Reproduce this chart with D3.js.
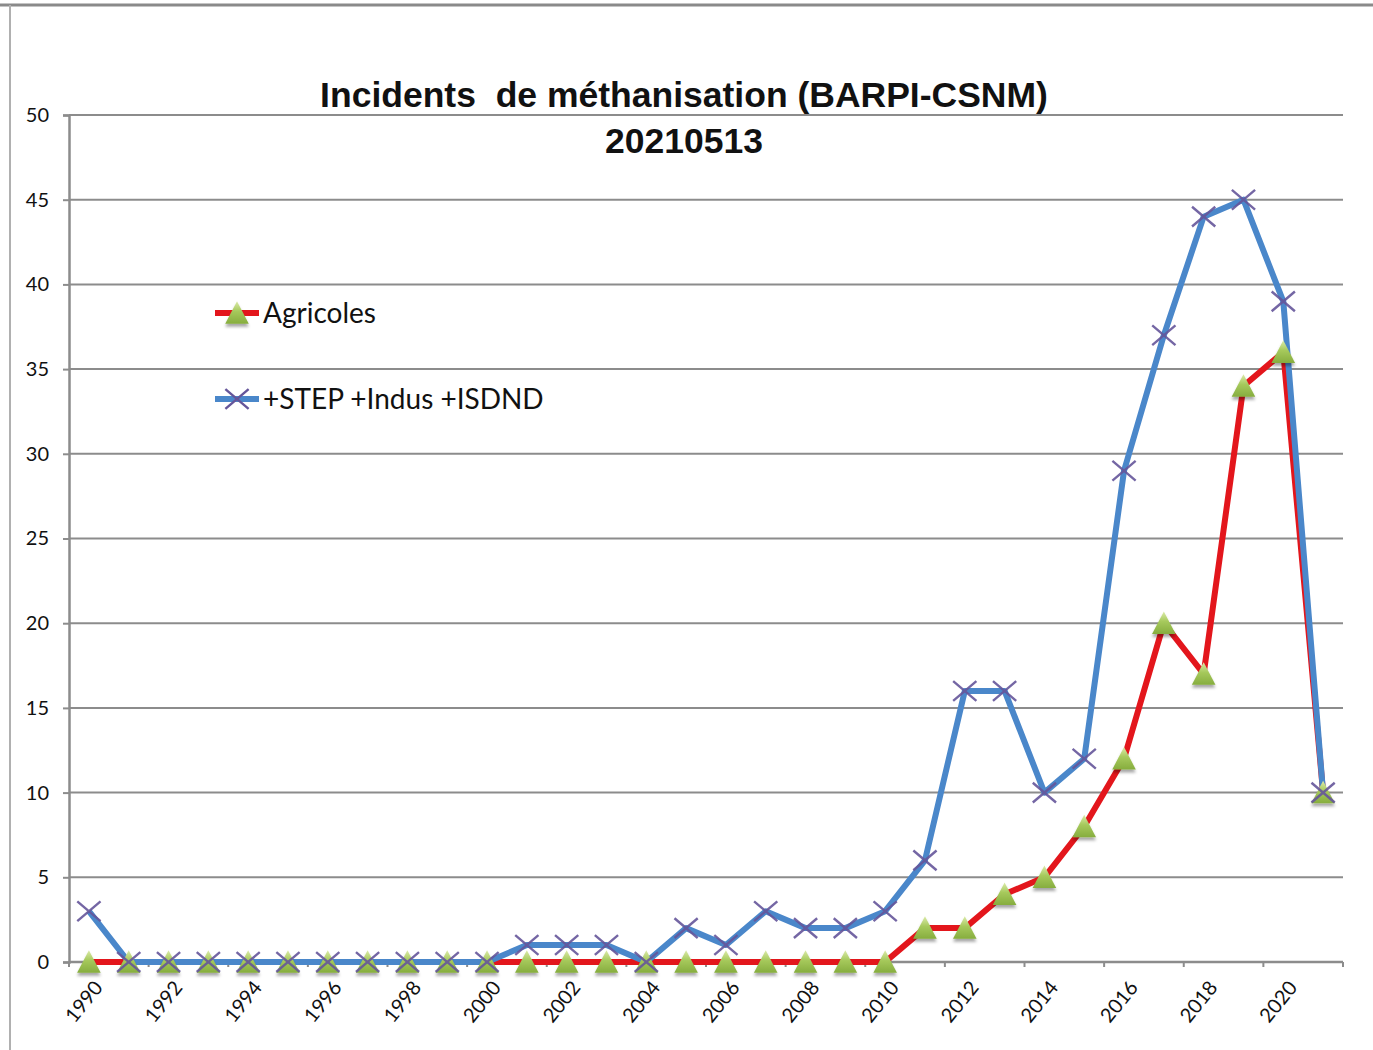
<!DOCTYPE html>
<html>
<head>
<meta charset="utf-8">
<script src="https://cdn.jsdelivr.net/npm/d3@7"></script>
<style>
  html, body { margin: 0; padding: 0; background: #fff; }
  svg { display: block; }
</style>
</head>
<body>
<svg id="chart" width="1373" height="1050"></svg>
<script>
// ---------------- data ----------------
const years = [1990,1991,1992,1993,1994,1995,1996,1997,1998,1999,2000,2001,2002,2003,2004,2005,2006,2007,2008,2009,2010,2011,2012,2013,2014,2015,2016,2017,2018,2019,2020,2021];
const agricoles = [0,0,0,0,0,0,0,0,0,0,0,0,0,0,0,0,0,0,0,0,0,2,2,4,5,8,12,20,17,34,36,10];
const total = [3,0,0,0,0,0,0,0,0,0,0,1,1,1,0,2,1,3,2,2,3,6,16,16,10,12,29,37,44,45,39,10];
const yTicks = [0,5,10,15,20,25,30,35,40,45,50];
const xLabels = [1990,1992,1994,1996,1998,2000,2002,2004,2006,2008,2010,2012,2014,2016,2018,2020];
const titleLines = ["Incidents  de méthanisation (BARPI-CSNM)", "20210513"];
const seriesNames = ["Agricoles", "+STEP +Indus +ISDND"];

// ---------------- layout ----------------
const svg = d3.select("#chart");
const X0 = 69, X1 = 1343, Y0 = 962, Y1 = 115;
const x = d3.scaleBand().domain(years).range([X0, X1]).padding(0);
const y = d3.scaleLinear().domain([0, 50]).range([Y0, Y1]);
const cx = d => x(d) + x.bandwidth() / 2;

const RED = "#e3161c", BLUE = "#4a87ca", PURPLE = "#65559a", GRID = "#8c8c8c";

const defs = svg.append("defs");
const grad = defs.append("linearGradient").attr("id", "tri").attr("x1", 0).attr("y1", 0).attr("x2", 0).attr("y2", 1);
grad.append("stop").attr("offset", "0%").attr("stop-color", "#dcebaa");
grad.append("stop").attr("offset", "45%").attr("stop-color", "#a6c95c");
grad.append("stop").attr("offset", "100%").attr("stop-color", "#86ad3e");
const flt = defs.append("filter").attr("id", "shadow").attr("x", "-50%").attr("y", "-50%").attr("width", "200%").attr("height", "200%");
flt.append("feDropShadow").attr("dx", 0).attr("dy", 3).attr("stdDeviation", 1.8).attr("flood-color", "#000").attr("flood-opacity", 0.35);

// outer frame
svg.append("line").attr("x1", 0).attr("x2", 1373).attr("y1", 5).attr("y2", 5).attr("stroke", "#8a8a8a").attr("stroke-width", 3);
svg.append("line").attr("x1", 10).attr("x2", 10).attr("y1", 5).attr("y2", 1050).attr("stroke", "#b0b0b0").attr("stroke-width", 2);

// title
const title = svg.append("text").attr("x", 684).attr("text-anchor", "middle")
  .attr("font-family", "'Liberation Sans', Arial, sans-serif").attr("font-weight", "bold")
  .attr("font-size", 35.5).attr("fill", "#111").style("white-space", "pre");
title.selectAll("tspan").data(titleLines).join("tspan")
  .attr("x", 684).attr("y", (d, i) => 107 + i * 46).style("white-space", "pre").text(d => d);

// gridlines
svg.append("g").selectAll("line").data(yTicks.filter(v => v > 0)).join("line")
  .attr("x1", X0).attr("x2", X1).attr("y1", d => y(d)).attr("y2", d => y(d))
  .attr("stroke", GRID).attr("stroke-width", 2);

// y axis
const yAxis = svg.append("g").attr("transform", `translate(${X0},0)`)
  .call(d3.axisLeft(y).tickValues(yTicks).tickSize(6).tickPadding(14));
yAxis.select(".domain").attr("stroke", GRID).attr("stroke-width", 2.5);
yAxis.selectAll(".tick line").attr("stroke", GRID).attr("stroke-width", 2);
yAxis.selectAll("text").attr("font-family", "Lato, 'Open Sans', sans-serif").attr("font-size", 20).attr("fill", "#111");

// x axis line
svg.append("line").attr("x1", X0).attr("x2", X1).attr("y1", Y0).attr("y2", Y0)
  .attr("stroke", GRID).attr("stroke-width", 2.5);
// x tick marks at every second category boundary
const tickYears = years.filter((d, i) => i % 2 === 0);
svg.append("g").selectAll("line").data(tickYears).join("line")
  .attr("x1", d => x(d)).attr("x2", d => x(d)).attr("y1", Y0).attr("y2", Y0 + 5)
  .attr("stroke", GRID).attr("stroke-width", 2);
svg.append("line").attr("x1", X1).attr("x2", X1).attr("y1", Y0).attr("y2", Y0 + 5)
  .attr("stroke", GRID).attr("stroke-width", 2);
// x labels
svg.append("g").selectAll("text").data(xLabels).join("text")
  .attr("transform", d => `translate(${cx(d) + 15},${Y0 + 26}) rotate(-51)`)
  .attr("text-anchor", "end")
  .attr("font-family", "Lato, 'Open Sans', sans-serif").attr("font-size", 20).attr("fill", "#111")
  .text(d => d);

// lines
const line = d3.line().x((d, i) => cx(years[i])).y(d => y(d));
svg.append("path").datum(agricoles).attr("d", line).attr("fill", "none")
  .attr("stroke", RED).attr("stroke-width", 6).attr("stroke-linejoin", "round");
svg.append("path").datum(total).attr("d", line).attr("fill", "none")
  .attr("stroke", BLUE).attr("stroke-width", 6).attr("stroke-linejoin", "round");

// marker shapes
const triSymbol = { draw(ctx, size) { const h = Math.sqrt(size); ctx.moveTo(0, -h * 0.55); ctx.lineTo(h * 0.55, h * 0.5); ctx.lineTo(-h * 0.55, h * 0.5); ctx.closePath(); } };
const crossSymbol = { draw(ctx, size) { const w = Math.sqrt(size) / 2; const h = w * 0.85; ctx.moveTo(-w, -h); ctx.lineTo(w, h); ctx.moveTo(w, -h); ctx.lineTo(-w, h); } };
const tri = d3.symbol().type(triSymbol).size(460);
const cross = d3.symbol().type(crossSymbol).size(540);

svg.append("g").selectAll("path").data(agricoles).join("path")
  .attr("transform", (d, i) => `translate(${cx(years[i])},${y(d)})`)
  .attr("d", tri).attr("fill", "url(#tri)").attr("filter", "url(#shadow)");
svg.append("g").selectAll("path").data(total).join("path")
  .attr("transform", (d, i) => `translate(${cx(years[i])},${y(d)})`)
  .attr("d", cross).attr("fill", "none").attr("stroke", PURPLE).attr("stroke-width", 2.4).attr("opacity", 0.9);

// legend
const legend = svg.append("g");
const legendItems = [
  { name: seriesNames[0], color: RED, sym: tri, marker: "tri", y: 313 },
  { name: seriesNames[1], color: BLUE, sym: cross, marker: "cross", y: 399 }
];
legendItems.forEach(it => {
  legend.append("line").attr("x1", 215).attr("x2", 259).attr("y1", it.y).attr("y2", it.y)
    .attr("stroke", it.color).attr("stroke-width", 6);
  const m = legend.append("path").attr("transform", `translate(237,${it.y})`).attr("d", it.sym);
  if (it.marker === "tri") m.attr("fill", "url(#tri)").attr("filter", "url(#shadow)");
  else m.attr("fill", "none").attr("stroke", PURPLE).attr("stroke-width", 2.4);
  legend.append("text").attr("x", 263).attr("y", it.y + 10)
    .attr("font-family", "Lato, 'Open Sans', sans-serif").attr("font-size", 28).attr("fill", "#111")
    .text(it.name);
});
</script>
</body>
</html>
